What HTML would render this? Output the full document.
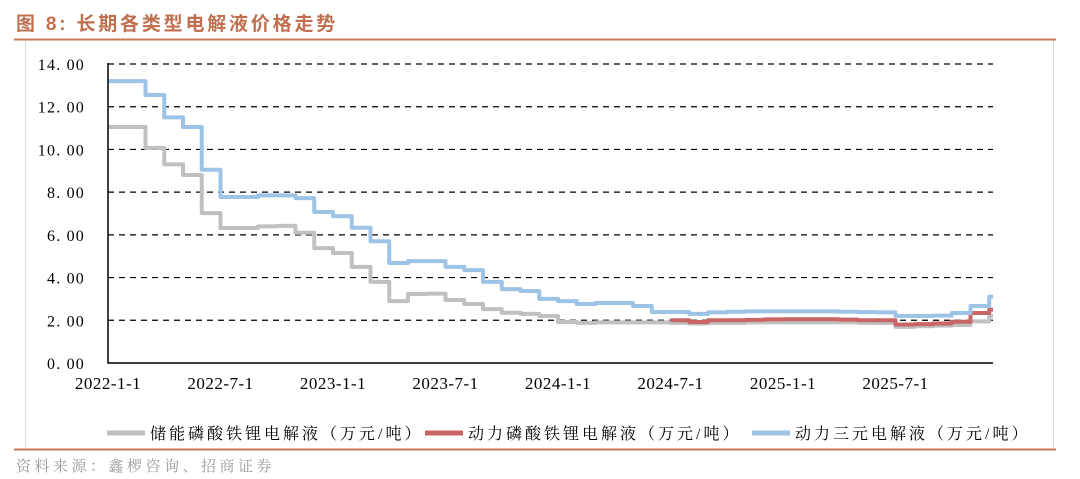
<!DOCTYPE html>
<html><head><meta charset="utf-8"><style>
body{margin:0;background:#fff;}
svg{display:block;}
.t{font-family:"Liberation Serif","Noto Serif CJK SC",serif;fill:#000;}
.lg{font-family:"Liberation Serif","Noto Serif CJK SC",serif;font-size:16px;fill:#000;letter-spacing:3px;}
</style></head><body>
<svg id="c" width="1080" height="479" xmlns="http://www.w3.org/2000/svg">
<text x="16" y="30" font-family="'Liberation Sans','Noto Sans CJK SC',sans-serif" font-size="19" font-weight="bold" fill="#c0704f" letter-spacing="2.8">图 8:  长期各类型电解液价格走势</text>
<line x1="14" y1="39.5" x2="1056" y2="39.5" stroke="#c9795a" stroke-width="2"/>
<line x1="25.5" y1="41" x2="25.5" y2="448" stroke="#d9d9d9" stroke-width="1"/>
<line x1="1053.5" y1="41" x2="1053.5" y2="448" stroke="#d9d9d9" stroke-width="1"/>
<line x1="14" y1="449.5" x2="1056" y2="449.5" stroke="#c9795a" stroke-width="2"/>
<text x="16" y="471" font-family="'Liberation Serif','Noto Serif CJK SC',serif" font-size="15" fill="#999" letter-spacing="3.5">资料来源：鑫椤咨询、招商证券</text>
<g id="grid"></g><g id="series"></g><g id="axes"></g>
<g>
<line x1="107" y1="433" x2="145" y2="433" stroke="#c0c0c0" stroke-width="5"/>
<text class="lg" x="150" y="439">储能磷酸铁锂电解液（万元/吨）</text>
<line x1="425" y1="433" x2="463" y2="433" stroke="#c96565" stroke-width="5"/>
<text class="lg" x="468" y="439">动力磷酸铁锂电解液（万元/吨）</text>
<line x1="752" y1="433" x2="790" y2="433" stroke="#9dc3e6" stroke-width="5"/>
<text class="lg" x="795" y="439">动力三元电解液（万元/吨）</text>
</g>
</svg>
<script>
const xTickLabels=["2022-1-1","2022-7-1","2023-1-1","2023-7-1","2024-1-1","2024-7-1","2025-1-1","2025-7-1"];
const xTickMonths=[0,6,12,18,24,30,36,42];
const yTicks=[0,2,4,6,8,10,12,14];
const storageLFP=[11.05,11.05,10.07,9.3,8.8,7.02,6.32,6.32,6.4,6.42,6.1,5.38,5.15,4.5,3.8,2.9,3.23,3.25,2.95,2.76,2.52,2.35,2.3,2.2,1.92,1.88,1.9,1.9,1.9,1.9,1.88,1.85,1.88,1.88,1.9,1.9,1.9,1.9,1.9,1.9,1.88,1.87,1.69,1.72,1.75,1.78,1.95,2.2];
const powerLFP=[null,null,null,null,null,null,null,null,null,null,null,null,null,null,null,null,null,null,null,null,null,null,null,null,null,null,null,null,null,null,2.0,1.92,2.0,2.0,2.02,2.04,2.05,2.05,2.05,2.03,2.0,2.0,1.8,1.82,1.85,1.93,2.34,2.5];
const powerNCM=[13.2,13.2,12.55,11.5,11.05,9.05,7.77,7.77,7.85,7.85,7.72,7.07,6.87,6.33,5.7,4.68,4.77,4.77,4.5,4.35,3.8,3.46,3.37,3.0,2.9,2.76,2.81,2.81,2.67,2.39,2.39,2.3,2.37,2.4,2.42,2.42,2.42,2.42,2.42,2.4,2.38,2.37,2.2,2.2,2.22,2.34,2.67,3.1];
const X0=108,XE=993,Y0=363,Y1=64,MW=18.75;
const xs=m=>X0+m*MW;
const ys=v=>Y0-(v/14)*(Y0-Y1);
const NS="http://www.w3.org/2000/svg";
function mk(t,a,p){const e=document.createElementNS(NS,t);for(const k in a)e.setAttribute(k,a[k]);p.appendChild(e);return e;}
const grid=document.getElementById('grid'),axes=document.getElementById('axes'),ser=document.getElementById('series');
yTicks.forEach((v,i)=>{
  if(v>0){const g=mk('line',{x1:X0,x2:XE,y1:ys(v),y2:ys(v),stroke:'#000','stroke-width':1.2,'stroke-dasharray':'6,5'},grid);
  
  }
  const t=mk('text',{x:85,y:ys(v)+6,'text-anchor':'end','class':'t',style:'font-size:16px;letter-spacing:1.2px'},axes);
  t.textContent=v.toFixed(2).replace('.','. ');
  
  
});
xTickLabels.forEach((l,i)=>{
  const t=mk('text',{x:xs(xTickMonths[i]),y:389,'text-anchor':'middle','class':'t',style:'font-size:17px;letter-spacing:0.5px'},axes);
  t.textContent=l;
  
  
});
const ax=mk('path',{d:`M${X0},${Y1-1}V${Y0}H${XE}`,fill:'none',stroke:'#000','stroke-width':1.5},axes);


function step(arr,color,name){
  let d='',started=false;
  arr.forEach((v,m)=>{
    if(v==null)return;
    const x=xs(m),y=ys(v);
    if(!started){d+=`M${x},${y}`;started=true;}else d+=`V${y}`;
    d+=`H${Math.min(xs(m+1),XE)}`;
  });
  const p=mk('path',{d:d,fill:'none',stroke:color,'stroke-width':4,'stroke-linejoin':'round'},ser);
  
  
}
step(storageLFP,'#c0c0c0','series-storage-lfp');
step(powerLFP,'#c96565','series-power-lfp');
step(powerNCM,'#9dc3e6','series-power-ncm');
</script>
</body></html>
